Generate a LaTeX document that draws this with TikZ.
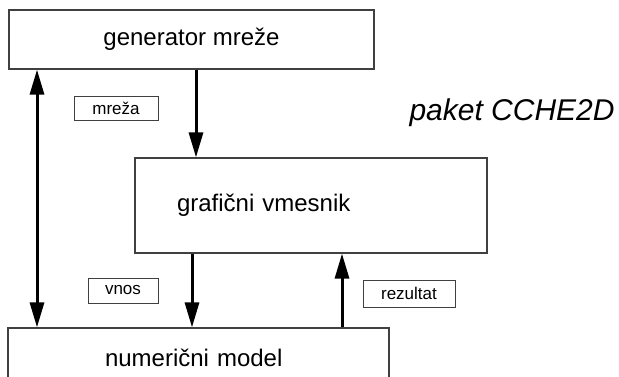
\documentclass[tikz,border=0pt]{standalone}
\usepackage{fontspec}
\setmainfont{Liberation Sans}
\usetikzlibrary{arrows.meta}

\begin{document}
\begin{tikzpicture}[x=1pt,y=-1pt]
	\tikzstyle{block} = [draw=black!75, line width=1.2pt, fill=white, inner sep=0pt, font=\fontsize{24}{28}\selectfont];
	\tikzstyle{tag} = [draw=black!75, line width=0.8pt, fill=white, inner sep=0pt, font=\fontsize{17}{20}\selectfont];
	\tikzstyle{arr} = [line width=3pt, -{Triangle[length=25pt,width=14pt]}];

	\clip (0,0) rectangle (619,376);

	\node[block, minimum width=365pt, minimum height=59pt] at (191.5, 39.5) (gen) {generator mreže};
	\node[block, minimum height=95pt, inner xsep=42pt, text width=268pt, align=left] at (311, 205.5) (graf) {grafični vmesnik};
	\node[block, minimum height=59pt, inner xsep=97pt, text width=187pt, align=left] at (198.5, 357.5) (num) {numerični model};

	\node[tag, minimum width=84pt, minimum height=24pt] at (116, 108) (mreza) {mreža};
	\node[tag, minimum width=70pt, minimum height=25pt] at (123, 290.5) (vnos) {vnos};
	\node[tag, minimum width=92pt, minimum height=27pt] at (409, 293.5) (rez) {rezultat};

	\node[anchor=base west, font=\fontsize{30}{34}\selectfont\itshape] at (406, 120) (paket) {paket CCHE2D};

	\coordinate (lft) at (37, 0);
	\coordinate (dn) at (196, 0);
	\coordinate (vn) at (192, 0);
	\coordinate (up) at (342, 0);

	\draw[arr, {Triangle[length=25pt,width=14pt]}-{Triangle[length=25pt,width=14pt]}] (gen.south -| lft) -- (num.north -| lft);
	\draw[arr] (gen.south -| dn) -- (graf.north -| dn);
	\draw[arr] (graf.south -| vn) -- (num.north -| vn);
	\draw[arr] (num.north -| up) -- (graf.south -| up);

\end{tikzpicture}
\end{document}
